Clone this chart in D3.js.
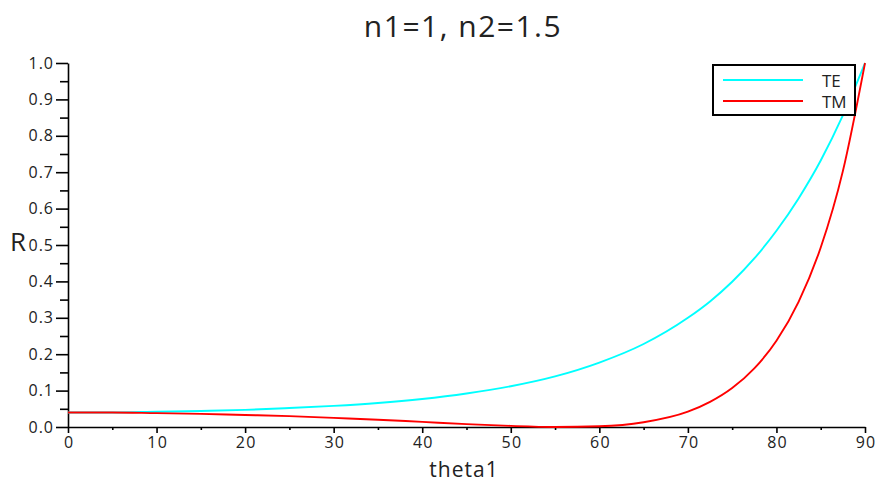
<!DOCTYPE html>
<html>
<head>
<meta charset="utf-8">
<script src="https://cdn.jsdelivr.net/npm/d3@7"></script>
<style>
  body { margin: 0; background: #fff; }
  svg { display: block; font-family: "Open Sans", sans-serif; }
</style>
</head>
<body>
<div id="chart"></div>
<script>
// incidence angle (deg) and reflectance
const theta = [0, 5, 10, 15, 20, 25, 30, 35, 40, 45, 50, 55, 60, 65, 70, 72.5, 75, 77.5, 80, 82.5, 85, 87.5, 90];
const rTE = [0.040, 0.040, 0.042, 0.044, 0.047, 0.052, 0.058, 0.066, 0.077, 0.092, 0.112, 0.139, 0.177, 0.228, 0.300, 0.345, 0.399, 0.463, 0.539, 0.628, 0.732, 0.856, 1.0];
const rTM = [0.040, 0.040, 0.038, 0.036, 0.033, 0.030, 0.025, 0.020, 0.014, 0.008, 0.003, 0.0002, 0.002, 0.013, 0.042, 0.069, 0.107, 0.161, 0.237, 0.344, 0.493, 0.703, 1.0];
const series = [
  { name: "TE", values: rTE, color: "#00ffff" },
  { name: "TM", values: rTM, color: "#ff0000" }
];
const xMajor = [0, 10, 20, 30, 40, 50, 60, 70, 80, 90];
const yMajor = [0, 0.1, 0.2, 0.3, 0.4, 0.5, 0.6, 0.7, 0.8, 0.9, 1.0];

const width = 879, height = 483;
const margin = { left: 68, right: 14, top: 63, bottom: 56 };

const svg = d3.select("#chart").append("svg")
  .attr("width", width).attr("height", height);

const x = d3.scaleLinear().domain([0, 90]).range([margin.left, width - margin.right]);
const y = d3.scaleLinear().domain([0, 1]).range([height - margin.bottom, margin.top]);

// title
svg.append("text")
  .attr("x", 463).attr("y", 37)
  .attr("text-anchor", "middle")
  .attr("font-size", 30)
  .attr("letter-spacing", 1.5)
  .attr("fill", "#222")
  .text("n1=1, n2=1.5");

// x axis: minor then major
const gx = svg.append("g").attr("transform", `translate(0,${y(0)})`);
gx.call(d3.axisBottom(x).tickValues(d3.range(5, 90, 10)).tickSize(3).tickFormat(""))
  .call(g => g.select(".domain").remove());
gx.append("g")
  .call(d3.axisBottom(x).tickValues(xMajor).tickSize(6).tickSizeOuter(0).tickPadding(4).tickFormat(d3.format("d")))
  .call(g => g.selectAll("text")
    .attr("font-size", 16).attr("letter-spacing", 1.2).attr("dx", 0.6)
    .attr("fill", "#222").attr("font-family", "Open Sans, sans-serif"));

// y axis
const gy = svg.append("g").attr("transform", `translate(${x(0)},0)`);
gy.call(d3.axisLeft(y).tickValues(d3.range(0.05, 1, 0.1)).tickSize(8).tickFormat(""))
  .call(g => g.select(".domain").remove());
gy.append("g")
  .call(d3.axisLeft(y).tickValues(yMajor).tickSize(12).tickSizeOuter(0).tickPadding(3).tickFormat(d3.format(".1f")))
  .call(g => g.selectAll("text")
    .attr("font-size", 16).attr("letter-spacing", 1).attr("dx", 1)
    .attr("fill", "#222").attr("font-family", "Open Sans, sans-serif"));

svg.selectAll(".domain, .tick line").attr("stroke", "#000").attr("stroke-width", 1.6);

// axis labels
svg.append("text")
  .attr("x", 464).attr("y", 477)
  .attr("text-anchor", "middle")
  .attr("font-size", 21)
  .attr("letter-spacing", 1)
  .attr("fill", "#222")
  .text("theta1");

svg.append("text")
  .attr("x", 10).attr("y", 251)
  .attr("font-size", 26)
  .attr("fill", "#222")
  .text("R");

// curves
const line = d3.line()
  .x((d, i) => x(theta[i]))
  .y(d => y(d))
  .curve(d3.curveMonotoneX);

svg.selectAll(".curve")
  .data(series)
  .join("path")
  .attr("class", "curve")
  .attr("d", d => line(d.values))
  .attr("fill", "none")
  .attr("stroke", d => d.color)
  .attr("stroke-width", 1.9);

// legend
const lg = svg.append("g").attr("transform", "translate(713,65)");
lg.append("rect")
  .attr("width", 142).attr("height", 50)
  .attr("fill", "#fff")
  .attr("stroke", "#000")
  .attr("stroke-width", 2);
lg.selectAll(".item")
  .data(series)
  .join("g")
  .attr("transform", (d, i) => `translate(0,${15 + i * 21})`)
  .each(function (d) {
    const g = d3.select(this);
    g.append("line")
      .attr("x1", 10).attr("x2", 90)
      .attr("stroke", d.color).attr("stroke-width", 2);
    g.append("text")
      .attr("x", 109).attr("y", 7)
      .attr("font-size", 17)
      .attr("fill", "#222")
      .text(d.name);
  });
</script>
</body>
</html>
